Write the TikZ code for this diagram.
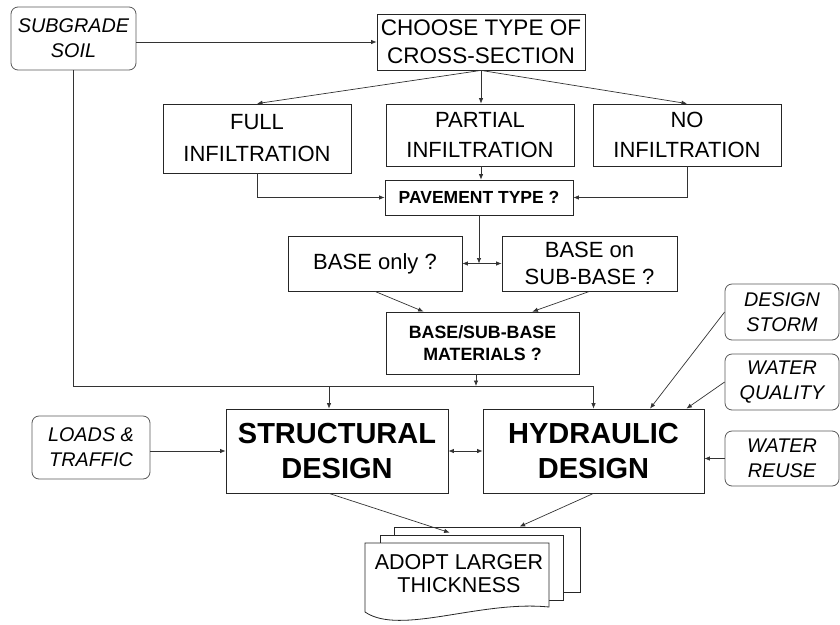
\documentclass[tikz,border=0pt]{standalone}
\usepackage{fontspec}
\setmainfont{Liberation Sans}
\usetikzlibrary{arrows.meta,calc}
\begin{document}
\begin{tikzpicture}[x=1pt,y=-1pt,
  box/.style={draw=black!85,line width=0.8pt,fill=white,inner sep=0pt,align=center},
  rbox/.style={box,rounded corners=7pt,draw=black!65},
  arr/.style={draw=black!80,line width=0.7pt,-{Latex[length=5.5pt,width=4.5pt]}},
  darr/.style={draw=black!80,line width=0.7pt,{Latex[length=5.5pt,width=4.5pt]}-{Latex[length=5.5pt,width=4.5pt]}},
  ln/.style={draw=black!80,line width=0.7pt},
  reg/.style={font={\fontsize{22}{30}\selectfont}},
  ital/.style={font={\fontsize{19.8}{25}\selectfont\itshape}},
  smb/.style={font={\fontsize{17.5}{22}\selectfont\bfseries}},
  big/.style={font={\fontsize{29}{35}\selectfont\bfseries}}
]
\useasboundingbox (0,0) rectangle (840,624);

% nodes
\node[rbox,ital,minimum width=125,minimum height=63] (subgrade) at (73.5,38.5) {SUBGRADE\\SOIL};
\node[box,font={\fontsize{22.5}{28}\selectfont},minimum width=208,minimum height=56] (choose) at (481,42) {CHOOSE TYPE OF\\CROSS-SECTION};
\node[box,font={\fontsize{22}{32}\selectfont},minimum width=188,minimum height=69] (full) at (257,138.5) {FULL\\INFILTRATION};
\node[box,reg,minimum width=188,minimum height=62] (partial) at (480,135) {PARTIAL\\INFILTRATION};
\node[box,reg,minimum width=188,minimum height=62] (no) at (687,135) {NO\\INFILTRATION};
\node[box,smb,minimum width=188,minimum height=35] (pavement) at (479,197.5) {PAVEMENT TYPE ?};
\node[box,reg,minimum width=174,minimum height=55] (baseonly) at (375,263.5) {BASE only ?};
\node[box,font={\fontsize{22}{27}\selectfont},minimum width=175,minimum height=55] (baseon) at (589.5,263.5) {BASE on\\SUB-BASE ?};
\node[box,font={\fontsize{17.8}{22}\selectfont\bfseries},minimum width=193,minimum height=62] (materials) at (482.5,343) {BASE/SUB-BASE\\MATERIALS ?};
\node[box,big,minimum width=222,minimum height=84] (structural) at (337,451) {STRUCTURAL\\DESIGN};
\node[box,big,minimum width=221,minimum height=84] (hydraulic) at (593.5,451) {HYDRAULIC\\DESIGN};
\node[rbox,ital,minimum width=118,minimum height=63] (loads) at (91,447.5) {LOADS \&\\TRAFFIC};
\node[rbox,ital,minimum width=114,minimum height=56] (design) at (782,312) {DESIGN\\STORM};
\node[rbox,ital,minimum width=114,minimum height=56] (quality) at (782,382) {WATER\\QUALITY};
\node[rbox,ital,minimum width=114,minimum height=55] (reuse) at (782,458.5) {WATER\\REUSE};

% multi-document
\node[box,minimum width=186,minimum height=65] (sheet3) at (487,559.5) {};
\node[box,minimum width=183,minimum height=65] (sheet2) at (471.5,567.5) {};
\path[draw=black!85,line width=0.8pt,fill=white] (365,543) -- (549,543) -- (549,607)
  .. controls (480,600) and (400,636) .. (365,612) -- cycle;
\node[inner sep=0pt,align=center,font={\fontsize{21.5}{23}\selectfont}] (adopt) at (459,573.5) {ADOPT LARGER\\THICKNESS};

% coordinates
\coordinate (bus) at (593.5,386);
\coordinate (sbus) at (329,386);
\coordinate (mbus) at (476,386);

% connectors
\draw[arr] (subgrade.east |- choose.west) -- (choose.west);
\draw[arr] (choose.south) -- (full.north);
\draw[arr] (choose.south) -- (choose.south |- partial.north);
\draw[arr] (choose.south) -- (no.north);
\draw[arr] (full.south) |- (pavement.west);
\draw[arr] (partial.south -| choose.south) -- (pavement.north -| choose.south);
\draw[arr] (no.south) |- (pavement.east);
\draw[arr] (pavement.south) -- (pavement.south |- baseonly.east);
\draw[darr] (baseonly.east) -- (baseon.west);
\draw[arr] (baseonly.south) -- ($(materials.north west)+(38,0)$);
\draw[arr] (baseon.south) -- ($(materials.north east)+(-47,0)$);
\draw[arr] (materials.south -| mbus) -- (mbus);
\draw[ln] (subgrade.south) |- (bus);
\draw[arr] (bus) -- (hydraulic.north);
\draw[arr] (sbus) -- (sbus |- structural.north);
\draw[arr] (loads.east |- structural.west) -- (structural.west);
\draw[darr] (structural.east) -- (hydraulic.west);
\draw[arr] (design.west) -- ($(hydraulic.north)+(56.5,0)$);
\draw[arr] (quality.west) -- ($(hydraulic.north east)+(-18,0)$);
\draw[arr] (reuse.west) -- (reuse.west -| hydraulic.east);
\draw[arr] ($(structural.south)+(-8,0)$) -- ($(sheet3.north west)+(56,6)$);
\draw[arr] (hydraulic.south) -- ($(sheet3.north west)+(126,0)$);
\end{tikzpicture}
\end{document}
